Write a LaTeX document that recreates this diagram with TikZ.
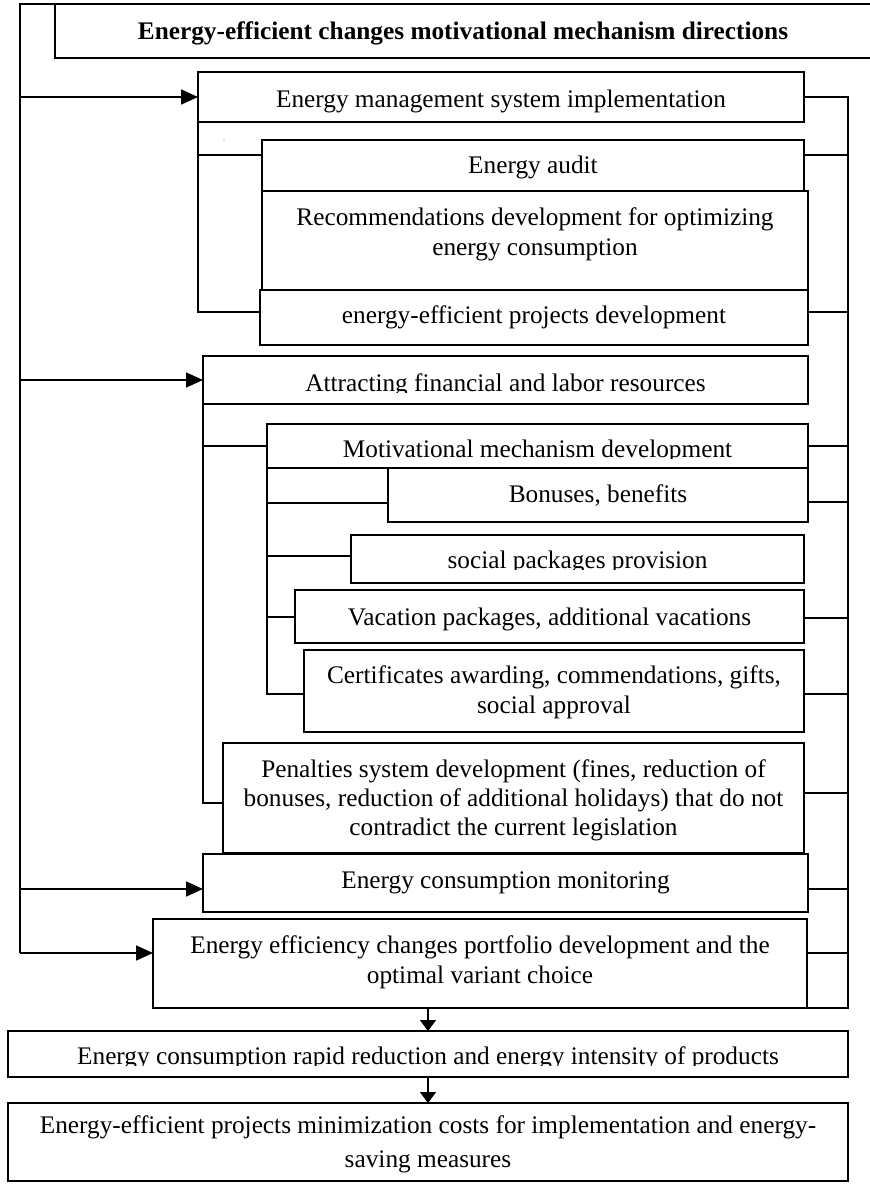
\documentclass[tikz,border=0pt]{standalone}
\usepackage{fontspec}
\setmainfont{Liberation Serif}
\usetikzlibrary{arrows.meta,calc}
\begin{document}
\begin{tikzpicture}[x=1pt,y=-1pt,
  box/.style={draw, line width=1.3pt, fill=white, rectangle, inner sep=0pt, outer sep=0pt, anchor=north west},
  txt/.style={inner sep=0pt, outer sep=0pt, align=center, font=\fontsize{25.3}{30}\selectfont},
  link/.style={line width=1.3pt},
  outer/.style={line width=1.4pt},
  arr/.style={line width=1.7pt, -{Triangle[length=17pt,width=15pt]}},
  darr/.style={line width=1.4pt, -{Triangle[length=11pt,width=16pt]}},
  mask/.style={fill=white, draw=none}]
\useasboundingbox (0,0) rectangle (870,1184);
\fill[white] (0,0) rectangle (870,1184);

% boxes
\node[box, draw=none, fill=none, minimum width=815pt, minimum height=54pt] (title) at (55,4) {};
\node[box, minimum width=606pt, minimum height=50pt] (ems) at (198,72) {};
\node[box, minimum width=546pt, minimum height=99pt] (rec) at (262,191) {};
\node[box, minimum width=542pt, minimum height=51pt] (audit) at (262,140) {};
\node[box, minimum width=548pt, minimum height=55pt] (proj) at (260,290) {};
\node[box, minimum width=605pt, minimum height=48pt] (attr) at (203,356) {};
\node[box, minimum width=541pt, minimum height=44pt] (motiv) at (267,424) {};
\node[box, minimum width=420pt, minimum height=54pt] (bonus) at (388,468) {};
\node[box, minimum width=453pt, minimum height=48pt] (social) at (351,535) {};
\node[box, minimum width=509pt, minimum height=53pt] (vac) at (295,590) {};
\node[box, minimum width=500pt, minimum height=82pt] (cert) at (304,650) {};
\node[box, minimum width=581pt, minimum height=110pt] (pen) at (223,743) {};
\node[box, minimum width=605pt, minimum height=58pt] (mon) at (203,854) {};
\node[box, minimum width=654pt, minimum height=89pt] (port) at (153,919) {};
\node[box, minimum width=840pt, minimum height=46pt] (res1) at (8,1031) {};
\node[box, minimum width=840pt, minimum height=78pt] (res2) at (8,1103) {};

% texts
\node[txt, anchor=base, font=\fontsize{25.3}{30}\selectfont\bfseries] (titleT) at (463,39) {Energy-efficient changes motivational mechanism directions};
\node[txt, anchor=base] (emsT) at (501,107) {Energy management system implementation};
\node[txt, anchor=base] (auditT) at (533,173) {Energy audit};
\node[txt] (recT) at (535,234) {Recommendations development for optimizing\\energy consumption};
\node[txt, anchor=base] (projT) at (534,323) {energy-efficient projects development};
\node[txt, anchor=base] (attrT) at (505.5,391) {Attracting financial and labor resources};
\node[txt, anchor=base] (motivT) at (537.5,457) {Motivational mechanism development};
\node[txt, anchor=base] (bonusT) at (598,502) {Bonuses, benefits};
\node[txt, anchor=base] (socialT) at (577.5,568) {social packages provision};
\node[txt, anchor=base] (vacT) at (549.5,625) {Vacation packages, additional vacations};
\node[txt] (certT) at (554,692) {Certificates awarding, commendations, gifts,\\social approval};
\node[txt, font=\fontsize{25.3}{29}\selectfont] (penT) at (513.5,800.5) {Penalties system development (fines, reduction of\\bonuses, reduction of additional holidays) that do not\\contradict the current legislation};
\node[txt, anchor=base] (monT) at (505.5,888) {Energy consumption monitoring};
\node[txt] (portT) at (480,962) {Energy efficiency changes portfolio development and the\\optimal variant choice};
\node[txt, anchor=base] (res1T) at (428,1064) {Energy consumption rapid reduction and energy intensity of products};
\node[txt, font=\fontsize{25.3}{34}\selectfont] (res2T) at (428,1144) {Energy-efficient projects minimization costs for implementation and energy-\\saving measures};

% clipped descenders
\fill[mask] (208,393) rectangle (802,403);
\fill[mask] (270,458.5) rectangle (805,467);
\fill[mask] (355,569.5) rectangle (800,582);
\fill[mask] (12,1065.5) rectangle (844,1076);

% tiny dot
\fill[gray] (224,140) circle (0.7pt);

% title frame
\draw[link] (title.north east) -- (title.north west) -- (title.south west) -- (title.south east);

% named coordinates
\coordinate (ltop) at (20,4);
\coordinate (rtop) at ([xshift=44pt]ems.east);
\coordinate (rbot) at (rtop |- port.south east);
\coordinate (auditR) at ([yshift=10.5pt]audit.east);
\coordinate (auditL) at ([yshift=10.5pt]audit.west);
\coordinate (projR) at ([yshift=5.5pt]proj.east);
\coordinate (projL) at ([yshift=5.5pt]proj.west);
\coordinate (bonusR) at ([yshift=-7pt]bonus.east);
\coordinate (bonusL) at ([yshift=-8pt]bonus.west);
\coordinate (socialL) at ([yshift=3pt]social.west);
\coordinate (vacR) at ([yshift=-1.5pt]vac.east);
\coordinate (vacL) at ([yshift=-0.5pt]vac.west);
\coordinate (certR) at ([yshift=-3pt]cert.east);
\coordinate (certL) at ([yshift=-3pt]cert.west);
\coordinate (penR) at ([yshift=5pt]pen.east);
\coordinate (penL) at ([yshift=-5pt]pen.west);
\coordinate (monR) at ([yshift=-6pt]mon.east);
\coordinate (monL) at ([yshift=-6pt]mon.west);
\coordinate (portR) at ([yshift=10.5pt]port.east);
\coordinate (portL) at ([yshift=10.5pt]port.west);
\coordinate (lbot) at (portL -| ltop);

% outer left line and arrows
\draw[outer] (title.north west) -- (ltop) -- (lbot);
\draw[arr] (ems.west -| ltop) -- (ems.west);
\draw[arr] (attr.west -| ltop) -- (attr.west);
\draw[arr] (monL -| ltop) -- (monL);
\draw[arr] (lbot) -- (portL);

% left brackets
\draw[link] (auditL) -| (ems.south west) |- (projL);
\draw[link] (motiv.west) -| (attr.south west) |- (penL);
\draw[link] (bonusL) -| (motiv.south west) |- (certL);
\draw[link] (socialL) -- (socialL -| motiv.south west);
\draw[link] (vacL) -- (vacL -| motiv.south west);

% right line and connectors
\draw[link] (ems.east) -- (rtop) -- (rbot) -- (port.south east);
\draw[link] (auditR) -- (auditR -| rtop);
\draw[link] (projR) -- (projR -| rtop);
\draw[link] (motiv.east) -- (motiv.east -| rtop);
\draw[link] (bonusR) -- (bonusR -| rtop);
\draw[link] (vacR) -- (vacR -| rtop);
\draw[link] (certR) -- (certR -| rtop);
\draw[link] (penR) -- (penR -| rtop);
\draw[link] (monR) -- (monR -| rtop);
\draw[link] (portR) -- (portR -| rtop);

% down arrows
\draw[darr] (res1.north |- port.south) -- (res1.north);
\draw[darr] (res2.north |- res1.south) -- (res2.north);
\end{tikzpicture}
\end{document}
